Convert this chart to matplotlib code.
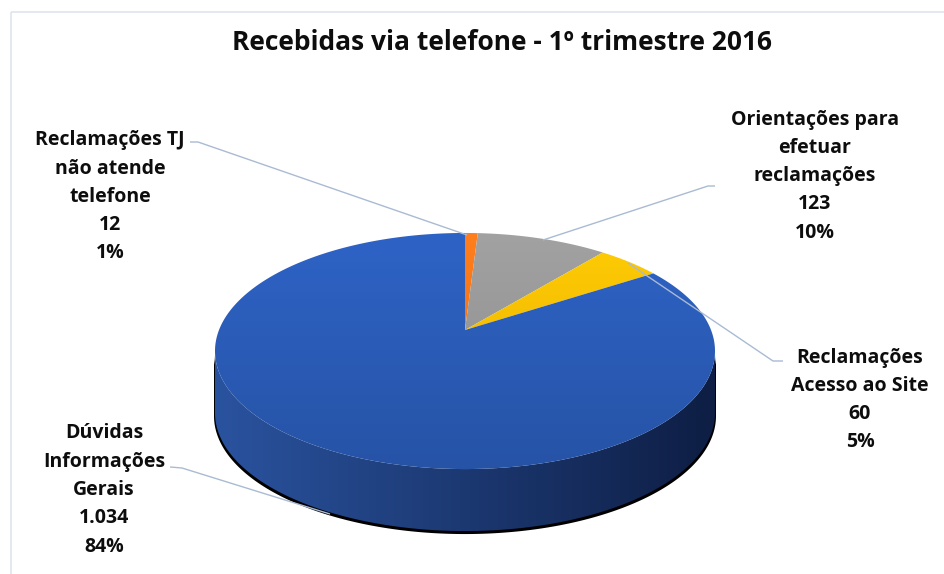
import numpy as np
import matplotlib
matplotlib.use("Agg")
import matplotlib.pyplot as plt
from matplotlib.patches import Polygon, Rectangle
from matplotlib import font_manager

# ---- data ----
categories = ["Reclamações TJ\nnão atende\ntelefone", "Orientações para\nefetuar\nreclamações",
              "Reclamações\nAcesso ao Site", "Dúvidas\nInformações\nGerais"]
values = [12, 123, 60, 1034]
value_labels = ["12", "123", "60", "1.034"]
title = "Recebidas via telefone - 1º trimestre 2016"

# ---- style ----
top_colors = [("#ff7f1e", "#e8680f"), ("#a2a2a2", "#8a8a8a"), ("#ffcd05", "#e8ab00"), ("#2e63c6", "#2653a6")]
side_colors = [("#c05a10", "#7a3608"), ("#7a7a7a", "#3e3e3e"), ("#c09800", "#6e5600"), ("#2a539f", "#0e1e44")]
label_pos = [(110, 197), (815, 176), (860, 400), (104, 490)]
leader = [[(190, 142), (198, 142), (467, 235)],
          [(715, 186), (708, 186), (543, 240)],
          [(783, 361), (773, 361), (628, 263)],
          [(170, 467), (182, 468), (330, 514)]]

names = {f.name for f in font_manager.fontManager.ttflist}
lab_font = "Open Sans"
title_font = "Liberation Sans Narrow" if "Liberation Sans Narrow" in names else "Open Sans"

W, H = 945, 574
fig = plt.figure(figsize=(W / 100, H / 100), dpi=100)
ax = fig.add_axes([0, 0, 1, 1])
ax.set_xlim(0, W)
ax.set_ylim(H, 0)
ax.axis("off")

ax.add_patch(Rectangle((11, 12), W, H, fill=False, ec="#dfe4ec", lw=1.2))

# perspective projection of a circle
cx, cy0, k, Sx, Sy, depth = 465.0, 330.0, 0.178, 246.0, 114.3, 62.0


def proj(theta):
    u, v = np.sin(theta), np.cos(theta)
    d = 1 + k * v
    return cx + Sx * u / d, cy0 - Sy * v / d


total = float(sum(values))
fr = np.array(values) / total
bounds = np.concatenate([[0], np.cumsum(fr)]) * 2 * np.pi

th_r = np.arccos(-k)
th_l = 2 * np.pi - th_r


def grad_image(poly, c1, c2, horizontal, ext):
    from matplotlib.colors import LinearSegmentedColormap
    cmap = LinearSegmentedColormap.from_list("g", [c1, c2])
    g = np.linspace(0, 1, 256)
    img = g[None, :] if horizontal else g[:, None]
    im = ax.imshow(img, cmap=cmap, extent=ext, aspect="auto", interpolation="bilinear", zorder=poly.get_zorder())
    im.set_clip_path(poly)


# shadow under side
tt = np.linspace(th_r, th_l, 300)
xs, ys = proj(tt)
sx = np.concatenate([cx + (xs - cx) * 1.004, (cx + (xs - cx) * 1.004)[::-1]])
sy = np.concatenate([ys + 3, (ys + depth + 3)[::-1]])
ax.add_patch(Polygon(np.column_stack([sx, sy]), closed=True, fc="black", ec="none", zorder=1))

# sides
for i in range(len(values)):
    a0, a1 = max(bounds[i], th_r), min(bounds[i + 1], th_l)
    if a1 <= a0:
        continue
    t = np.linspace(a0, a1, 200)
    x, y = proj(t)
    px = np.concatenate([x, x[::-1]])
    py = np.concatenate([y, (y + depth)[::-1]])
    poly = Polygon(np.column_stack([px, py]), closed=True, fc="none", ec="none", zorder=2)
    ax.add_patch(poly)
    grad_image(poly, side_colors[i][0], side_colors[i][1], True, (px.min(), px.max(), py.max(), py.min()))

# top face
ytop = cy0 - Sy / (1 + k)
ybot = cy0 + Sy / (1 - k)
for i in range(len(values)):
    t = np.linspace(bounds[i], bounds[i + 1], max(int(fr[i] * 600), 10))
    x, y = proj(t)
    px = np.concatenate([[cx], x])
    py = np.concatenate([[cy0], y])
    poly = Polygon(np.column_stack([px, py]), closed=True, fc="none", ec="none", zorder=3)
    ax.add_patch(poly)
    grad_image(poly, top_colors[i][0], top_colors[i][1], False, (150, 780, ybot, ytop))

# leader lines
for pts in leader:
    p = np.array(pts)
    ax.plot(p[:, 0], p[:, 1], color="#a9bbd3", lw=1.0, zorder=5, solid_capstyle="butt")

# labels
for i, (name, pos) in enumerate(zip(categories, label_pos)):
    pct = f"{round(fr[i] * 100):.0f}%"
    ax.text(pos[0], pos[1], f"{name}\n{value_labels[i]}\n{pct}", ha="center", va="center",
            fontsize=14, fontweight="bold", family=lab_font, linespacing=1.55, color="#0d0d0d", zorder=6)

ax.text(502, 43, title, ha="center", va="center", fontsize=19, fontweight="bold",
        family=title_font, color="#0d0d0d")

fig.savefig("out.png", dpi=100)
